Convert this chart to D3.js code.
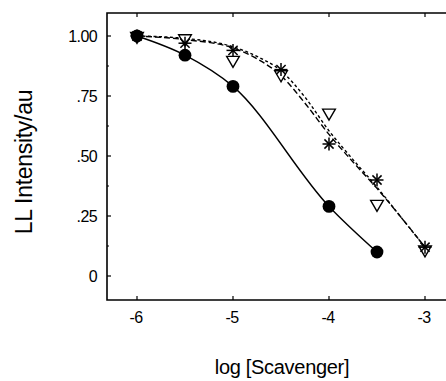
<!DOCTYPE html>
<html><head><meta charset="utf-8">
<script src="https://cdn.jsdelivr.net/npm/d3@7"></script>
<style>
html,body{margin:0;padding:0;background:#fff;}
svg{display:block;font-family:"Liberation Sans",Arial,sans-serif;}
</style></head>
<body>
<svg id="chart" width="446" height="381"></svg>
<script>
// ---- data ----
const circleX = [-6, -5.5, -5, -4, -3.5];
const circleY = [1.0, 0.92, 0.79, 0.29, 0.10];
const triangleX = [-6, -5.5, -5, -4.5, -4, -3.5, -3];
const triangleY = [1.0, 0.99, 0.90, 0.84, 0.68, 0.30, 0.11];
const starX = [-6, -5.5, -5, -4.5, -4, -3.5, -3];
const starY = [1.0, 0.97, 0.94, 0.86, 0.55, 0.40, 0.12];
// fitted curves
const fitX = [-6, -5.5, -5, -4.75, -4.5, -4.25, -4, -3.75, -3.5, -3.25, -3];
const fitTriY = [1.0, 0.99, 0.955, 0.915, 0.855, 0.745, 0.605, 0.485, 0.37, 0.245, 0.12];
const fitStarY = [1.0, 0.985, 0.95, 0.905, 0.835, 0.72, 0.59, 0.475, 0.365, 0.245, 0.12];
const xTicks = [-6, -5, -4, -3];
const xTickLabels = ["-6", "-5", "-4", "-3"];
const yTicks = [0, 0.25, 0.5, 0.75, 1.0];
const yTickLabels = ["0", ".25", ".50", ".75", "1.00"];
const yMinor = [0.125, 0.375, 0.625, 0.875];

const svg = d3.select("#chart");
const L = 107, T = 13, B = 300, R = 446;
const x = d3.scaleLinear().domain([-6, -3]).range([137, 425]);
const y = d3.scaleLinear().domain([0, 1]).range([276, 36]);

// frame
svg.append("path")
  .attr("d", `M${R},${T}H${L}V${B}H${R}`)
  .attr("fill", "none").attr("stroke", "#000").attr("stroke-width", 1.6);

// ticks (inward)
const g = svg.append("g").attr("stroke", "#000").attr("stroke-width", 1.2);
xTicks.forEach(v => {
  g.append("line").attr("x1", x(v)).attr("x2", x(v)).attr("y1", B).attr("y2", B - 4);
  g.append("line").attr("x1", x(v)).attr("x2", x(v)).attr("y1", T).attr("y2", T + 4);
});
yTicks.forEach(v => {
  g.append("line").attr("x1", L).attr("x2", L + 4).attr("y1", y(v)).attr("y2", y(v));
});
yMinor.forEach(v => {
  g.append("line").attr("x1", L).attr("x2", L + 2).attr("y1", y(v)).attr("y2", y(v));
});

// tick labels
svg.append("g").selectAll("text").data(xTicks).join("text")
  .attr("x", d => x(d) - 1).attr("y", 323).attr("text-anchor", "middle")
  .attr("font-size", 16).attr("letter-spacing", -0.5)
  .text((d, i) => xTickLabels[i]);
svg.append("g").selectAll("text").data(yTicks).join("text")
  .attr("x", 97).attr("y", d => y(d) + 6).attr("text-anchor", "end")
  .attr("font-size", 16).attr("letter-spacing", -0.6)
  .text((d, i) => yTickLabels[i]);

// axis titles
svg.append("text").attr("x", 282).attr("y", 374).attr("text-anchor", "middle")
  .attr("font-size", 20).attr("letter-spacing", -0.3).text("log [Scavenger]");
svg.append("text").attr("transform", "translate(32,162) rotate(-90)")
  .attr("text-anchor", "middle").attr("font-size", 23).attr("letter-spacing", -0.3)
  .text("LL Intensity/au");

// curves
const line = d3.line().x(d => x(d[0])).y(d => y(d[1])).curve(d3.curveMonotoneX);
svg.append("path").attr("d", line(circleX.map((v, i) => [v, circleY[i]])))
  .attr("fill", "none").attr("stroke", "#000").attr("stroke-width", 1.4);
svg.append("path").attr("d", line(fitX.map((v, i) => [v, fitTriY[i]])))
  .attr("fill", "none").attr("stroke", "#000").attr("stroke-width", 1.4)
  .attr("stroke-dasharray", "3,2.5");
svg.append("path").attr("d", line(fitX.map((v, i) => [v, fitStarY[i]])))
  .attr("fill", "none").attr("stroke", "#000").attr("stroke-width", 1.4)
  .attr("stroke-dasharray", "6,3");

// markers: triangles
const tri = d3.symbol().type(d3.symbolTriangle).size(70);
svg.append("g").selectAll("path").data(triangleX).join("path")
  .attr("transform", (d, i) => `translate(${x(d)},${y(triangleY[i])}) rotate(180)`)
  .attr("d", tri()).attr("fill", "#fff").attr("stroke", "#000").attr("stroke-width", 1.4);

// markers: stars (asterisks)
const starG = svg.append("g").attr("stroke", "#000").attr("stroke-width", 1.5);
starX.forEach((v, i) => {
  const cx = x(v), cy = y(starY[i]);
  [0, 45, 90, 135].forEach(a => {
    const r = 6.5, rad = a * Math.PI / 180;
    starG.append("line")
      .attr("x1", cx - r * Math.cos(rad)).attr("y1", cy - r * Math.sin(rad))
      .attr("x2", cx + r * Math.cos(rad)).attr("y2", cy + r * Math.sin(rad));
  });
});

// markers: filled circles
svg.append("g").selectAll("circle").data(circleX).join("circle")
  .attr("cx", d => x(d)).attr("cy", (d, i) => y(circleY[i])).attr("r", 6.4)
  .attr("fill", "#000");
</script>
</body></html>
